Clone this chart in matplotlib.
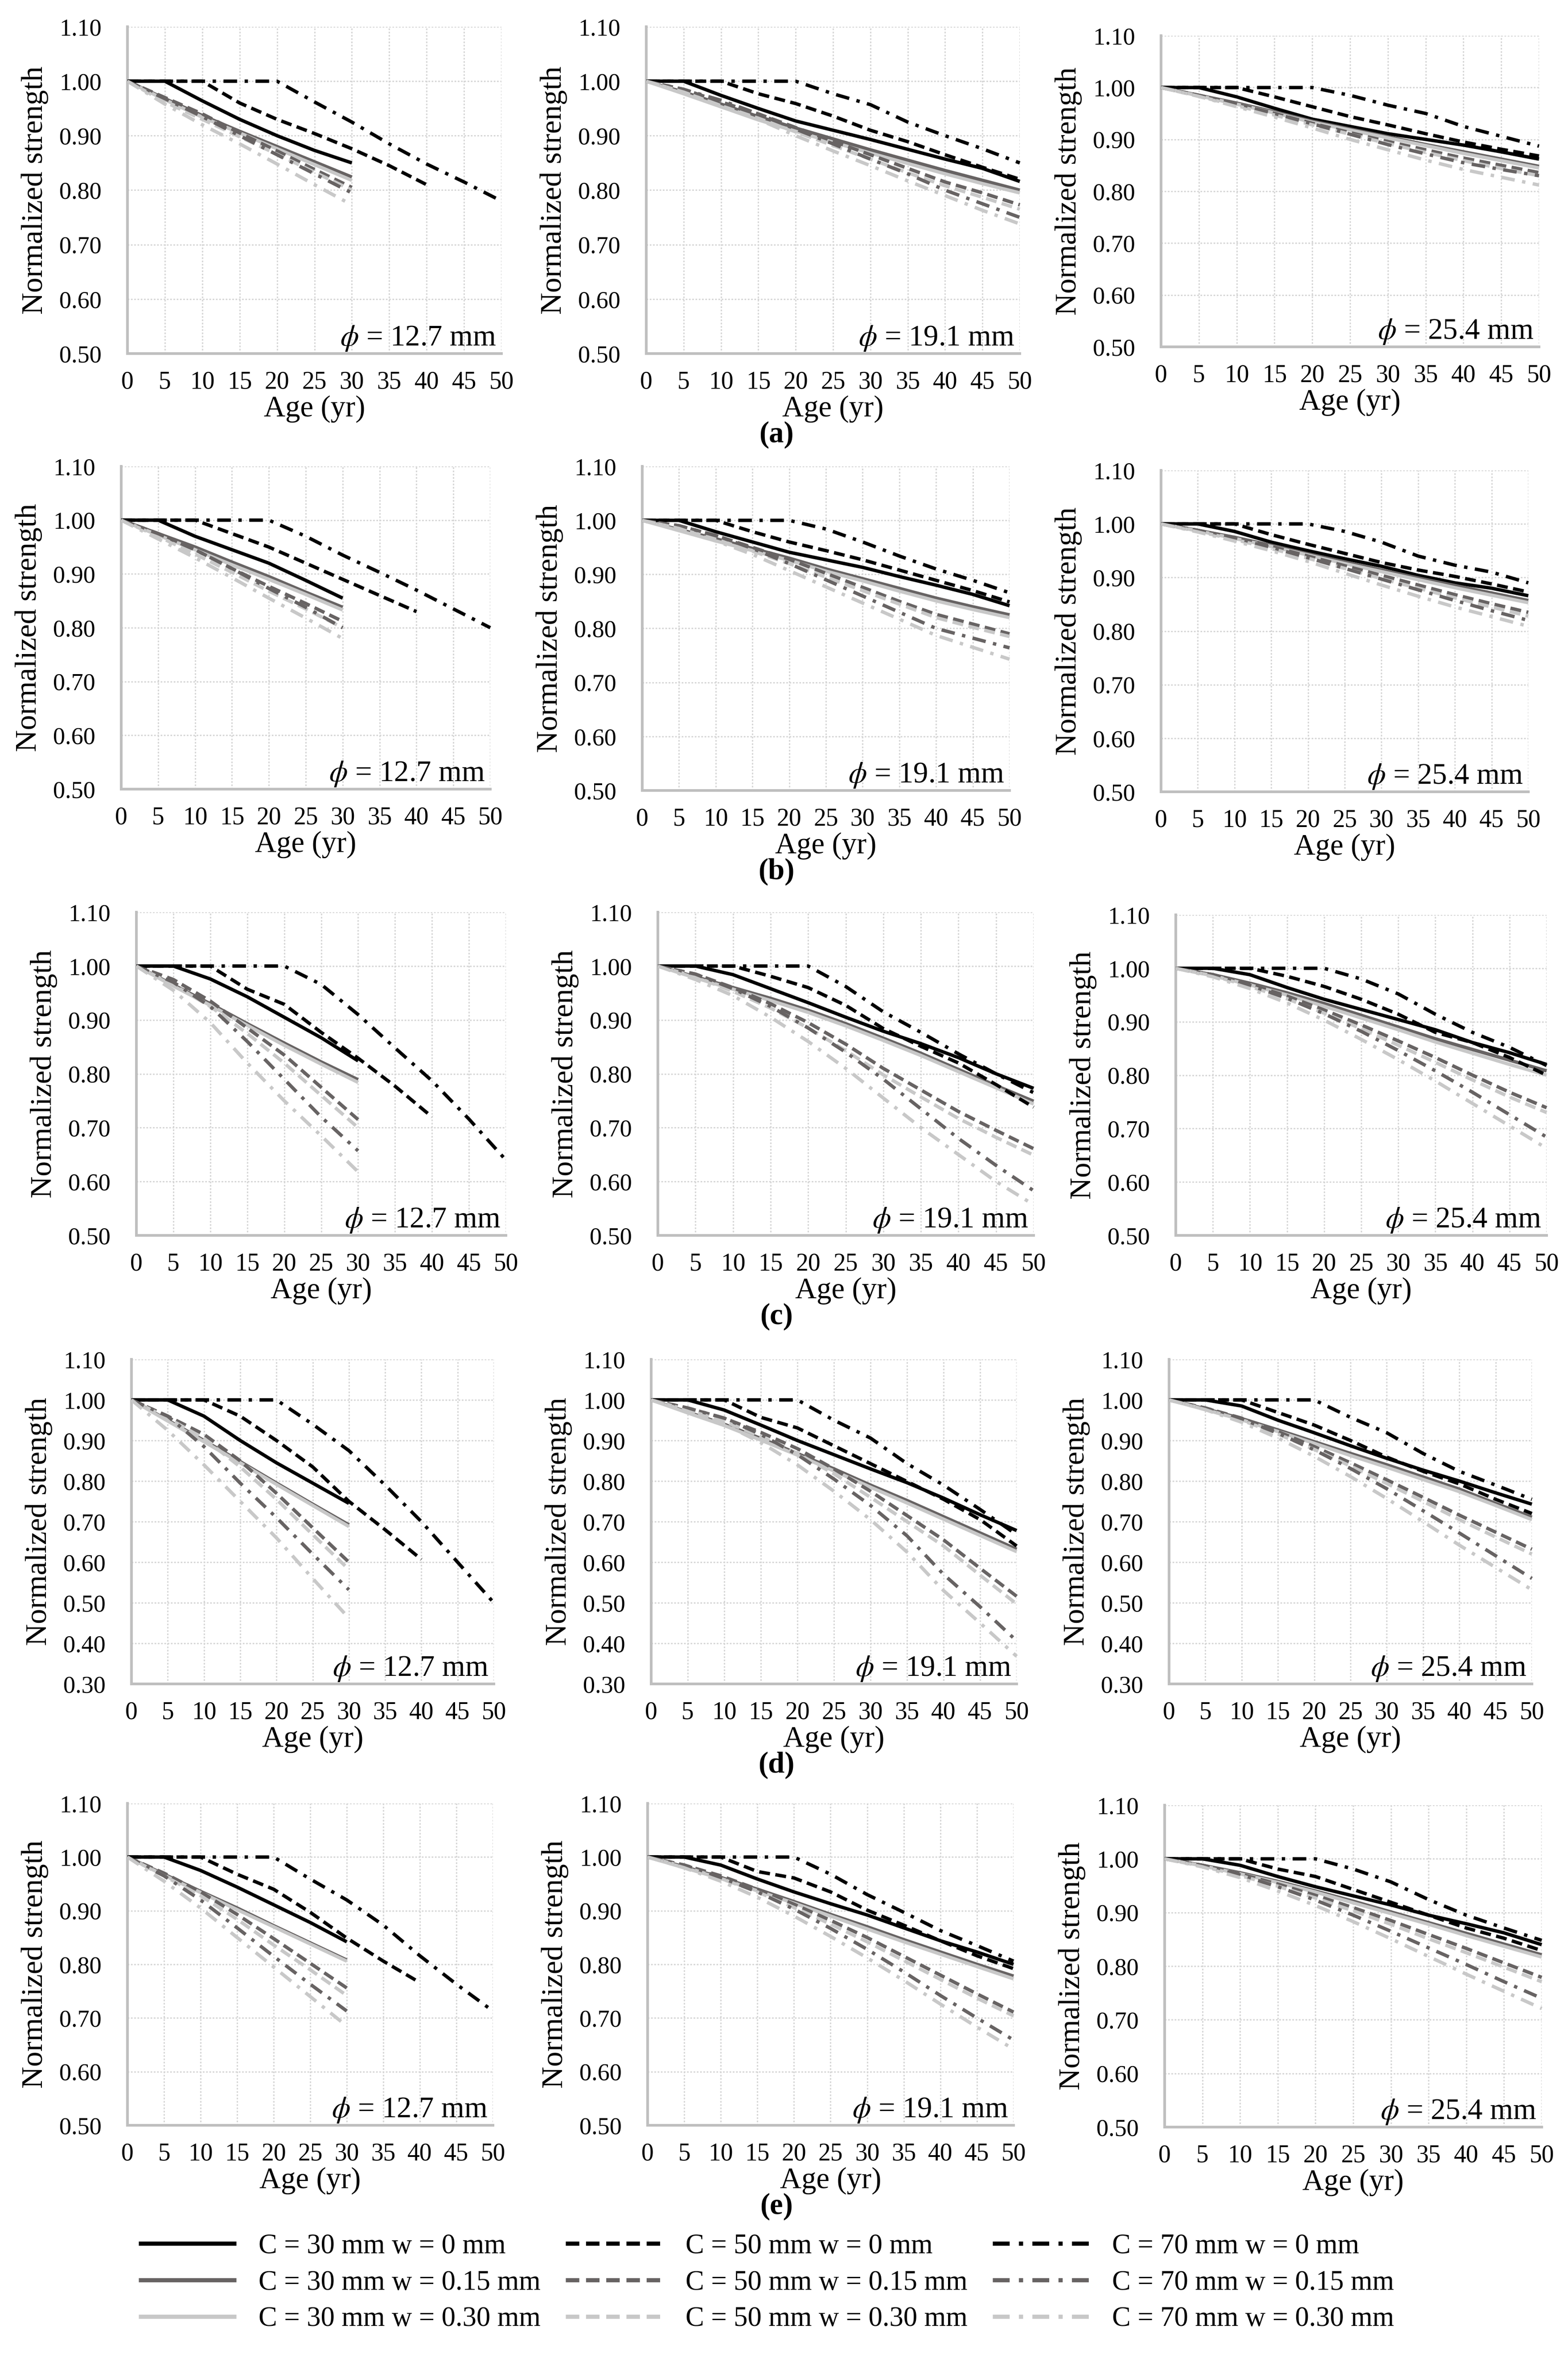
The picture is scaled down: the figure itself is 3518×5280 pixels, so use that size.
import numpy as np
import matplotlib
matplotlib.use('Agg')
import matplotlib.pyplot as plt
from matplotlib.lines import Line2D

plt.rcParams['font.family'] = ['Liberation Serif', 'DejaVu Serif']
plt.rcParams['mathtext.fontset'] = 'stix'

# ---------------- data ----------------
ages = [0, 5, 10, 15, 20, 25, 30, 35, 40, 45, 50]
yticks_std = [0.50, 0.60, 0.70, 0.80, 0.90, 1.00, 1.10]
yticks_d = [0.30, 0.40, 0.50, 0.60, 0.70, 0.80, 0.90, 1.00, 1.10]
diameters = ['12.7', '19.1', '25.4']
row_tags = ['(a)', '(b)', '(c)', '(d)', '(e)']
series_labels = ['C = 30 mm w = 0 mm', 'C = 30 mm w = 0.15 mm', 'C = 30 mm w = 0.30 mm',
                 'C = 50 mm w = 0 mm', 'C = 50 mm w = 0.15 mm', 'C = 50 mm w = 0.30 mm',
                 'C = 70 mm w = 0 mm', 'C = 70 mm w = 0.15 mm', 'C = 70 mm w = 0.30 mm']

# order in each panel: C30 w0, C30 w0.15, C30 w0.30, C50 w0, C50 w0.15, C50 w0.30, C70 w0, C70 w0.15, C70 w0.30
a_127 = [[1, 1, 0.964, 0.93, 0.90, 0.873, 0.85],
         [1, 0.968, 0.937, 0.908, 0.88, 0.852, 0.824],
         [1, 0.966, 0.934, 0.905, 0.876, 0.847, 0.818],
         [1, 1, 1, 0.96, 0.93, 0.904, 0.876, 0.845, 0.81],
         [1, 0.97, 0.94, 0.905, 0.872, 0.838, 0.805],
         [1, 0.962, 0.93, 0.898, 0.866, 0.833, 0.80],
         [1, 1, 1, 1, 1, 0.962, 0.925, 0.885, 0.848, 0.815, 0.78],
         [1, 0.968, 0.935, 0.90, 0.865, 0.83, 0.795],
         [1, 0.958, 0.92, 0.885, 0.848, 0.81, 0.773]]
a_191 = [[1, 1, 0.974, 0.95, 0.927, 0.91, 0.893, 0.875, 0.857, 0.84, 0.816],
         [1, 0.98, 0.958, 0.935, 0.914, 0.894, 0.874, 0.855, 0.836, 0.818, 0.80],
         [1, 0.977, 0.953, 0.929, 0.908, 0.888, 0.868, 0.849, 0.83, 0.812, 0.795],
         [1, 1, 1, 0.977, 0.959, 0.936, 0.91, 0.889, 0.865, 0.842, 0.82],
         [1, 0.985, 0.962, 0.94, 0.915, 0.89, 0.865, 0.84, 0.815, 0.795, 0.773],
         [1, 0.98, 0.955, 0.932, 0.907, 0.882, 0.857, 0.832, 0.808, 0.787, 0.765],
         [1, 1, 1, 1, 1, 0.977, 0.957, 0.925, 0.90, 0.876, 0.85],
         [1, 0.985, 0.965, 0.94, 0.912, 0.885, 0.857, 0.83, 0.80, 0.775, 0.75],
         [1, 0.98, 0.955, 0.93, 0.90, 0.872, 0.845, 0.817, 0.79, 0.763, 0.738]]
a_254 = [[1, 1, 0.982, 0.96, 0.939, 0.925, 0.911, 0.90, 0.889, 0.876, 0.862],
         [1, 0.985, 0.97, 0.953, 0.935, 0.92, 0.905, 0.89, 0.876, 0.862, 0.848],
         [1, 0.984, 0.968, 0.951, 0.933, 0.918, 0.903, 0.888, 0.873, 0.859, 0.845],
         [1, 1, 1, 0.982, 0.963, 0.944, 0.928, 0.911, 0.895, 0.881, 0.868],
         [1, 0.985, 0.968, 0.95, 0.931, 0.913, 0.896, 0.88, 0.864, 0.85, 0.836],
         [1, 0.983, 0.965, 0.947, 0.928, 0.91, 0.892, 0.875, 0.859, 0.844, 0.83],
         [1, 1, 1, 1, 1, 0.985, 0.966, 0.95, 0.925, 0.906, 0.887],
         [1, 0.985, 0.968, 0.95, 0.93, 0.91, 0.89, 0.872, 0.855, 0.842, 0.83],
         [1, 0.983, 0.963, 0.943, 0.922, 0.90, 0.88, 0.86, 0.842, 0.827, 0.812]]

b_127 = [[1, 1, 0.97, 0.945, 0.92, 0.888, 0.855],
         [1, 0.975, 0.95, 0.922, 0.895, 0.866, 0.838],
         [1, 0.972, 0.945, 0.917, 0.89, 0.862, 0.833],
         [1, 1, 1, 0.975, 0.95, 0.92, 0.89, 0.86, 0.83],
         [1, 0.975, 0.945, 0.91, 0.877, 0.845, 0.812],
         [1, 0.97, 0.937, 0.903, 0.868, 0.835, 0.80],
         [1, 1, 1, 1, 1, 0.97, 0.935, 0.903, 0.87, 0.835, 0.80],
         [1, 0.975, 0.945, 0.91, 0.873, 0.838, 0.80],
         [1, 0.965, 0.93, 0.893, 0.855, 0.818, 0.78]]
b_191 = [[1, 1, 0.979, 0.96, 0.941, 0.927, 0.913, 0.896, 0.88, 0.863, 0.842],
         [1, 0.983, 0.966, 0.948, 0.93, 0.91, 0.892, 0.874, 0.856, 0.84, 0.825],
         [1, 0.981, 0.962, 0.944, 0.926, 0.906, 0.888, 0.869, 0.851, 0.835, 0.82],
         [1, 1, 1, 0.979, 0.96, 0.944, 0.927, 0.908, 0.889, 0.87, 0.849],
         [1, 0.99, 0.972, 0.95, 0.928, 0.902, 0.876, 0.85, 0.826, 0.808, 0.79],
         [1, 0.985, 0.965, 0.943, 0.92, 0.895, 0.87, 0.845, 0.82, 0.802, 0.785],
         [1, 1, 1, 1, 1, 0.984, 0.96, 0.934, 0.91, 0.889, 0.866],
         [1, 0.99, 0.972, 0.948, 0.92, 0.89, 0.86, 0.83, 0.80, 0.782, 0.764],
         [1, 0.985, 0.962, 0.937, 0.907, 0.877, 0.847, 0.817, 0.787, 0.765, 0.743]]
b_254 = [[1, 1, 0.986, 0.966, 0.95, 0.935, 0.921, 0.904, 0.89, 0.88, 0.866],
         [1, 0.988, 0.975, 0.96, 0.944, 0.929, 0.914, 0.899, 0.885, 0.871, 0.857],
         [1, 0.987, 0.973, 0.958, 0.942, 0.926, 0.911, 0.896, 0.881, 0.867, 0.853],
         [1, 1, 1, 0.98, 0.962, 0.945, 0.928, 0.914, 0.902, 0.888, 0.873],
         [1, 0.988, 0.974, 0.958, 0.94, 0.922, 0.904, 0.886, 0.868, 0.851, 0.835],
         [1, 0.986, 0.971, 0.954, 0.936, 0.917, 0.898, 0.88, 0.862, 0.845, 0.828],
         [1, 1, 1, 1, 1, 0.986, 0.966, 0.94, 0.923, 0.91, 0.89],
         [1, 0.988, 0.973, 0.956, 0.937, 0.917, 0.897, 0.877, 0.857, 0.838, 0.82],
         [1, 0.985, 0.968, 0.95, 0.93, 0.908, 0.886, 0.865, 0.845, 0.827, 0.809]]

c_127 = [[1, 1, 0.976, 0.943, 0.905, 0.867, 0.824],
         [1, 0.965, 0.93, 0.893, 0.857, 0.822, 0.789],
         [1, 0.963, 0.927, 0.89, 0.853, 0.818, 0.784],
         [1, 1, 1, 0.957, 0.929, 0.877, 0.829, 0.777, 0.72],
         [1, 0.975, 0.935, 0.885, 0.835, 0.775, 0.715],
         [1, 0.965, 0.925, 0.875, 0.82, 0.76, 0.70],
         [1, 1, 1, 1, 1, 0.966, 0.91, 0.848, 0.787, 0.716, 0.64],
         [1, 0.97, 0.925, 0.86, 0.79, 0.72, 0.657],
         [1, 0.955, 0.895, 0.82, 0.75, 0.685, 0.618]]
c_191 = [[1, 1, 0.984, 0.958, 0.932, 0.905, 0.879, 0.856, 0.83, 0.80, 0.773],
         [1, 0.98, 0.96, 0.94, 0.918, 0.893, 0.866, 0.838, 0.808, 0.778, 0.749],
         [1, 0.978, 0.957, 0.936, 0.914, 0.889, 0.862, 0.834, 0.804, 0.774, 0.744],
         [1, 1, 1, 0.981, 0.96, 0.927, 0.884, 0.851, 0.82, 0.78, 0.738],
         [1, 0.985, 0.96, 0.93, 0.895, 0.855, 0.81, 0.77, 0.73, 0.695, 0.661],
         [1, 0.98, 0.953, 0.922, 0.885, 0.843, 0.798, 0.757, 0.717, 0.682, 0.649],
         [1, 1, 1, 1, 1, 0.962, 0.915, 0.877, 0.837, 0.80, 0.765],
         [1, 0.985, 0.958, 0.925, 0.885, 0.84, 0.79, 0.735, 0.68, 0.63, 0.583],
         [1, 0.975, 0.945, 0.905, 0.86, 0.81, 0.755, 0.70, 0.65, 0.60, 0.557]]
c_254 = [[1, 1, 0.988, 0.964, 0.942, 0.923, 0.904, 0.885, 0.861, 0.842, 0.82],
         [1, 0.988, 0.972, 0.954, 0.934, 0.912, 0.89, 0.868, 0.848, 0.828, 0.808],
         [1, 0.986, 0.969, 0.95, 0.929, 0.907, 0.885, 0.862, 0.841, 0.82, 0.80],
         [1, 1, 1, 0.985, 0.966, 0.942, 0.914, 0.88, 0.861, 0.833, 0.80],
         [1, 0.988, 0.97, 0.948, 0.922, 0.894, 0.864, 0.833, 0.80, 0.768, 0.739],
         [1, 0.986, 0.966, 0.943, 0.916, 0.887, 0.856, 0.824, 0.791, 0.759, 0.73],
         [1, 1, 1, 1, 1, 0.98, 0.952, 0.914, 0.88, 0.852, 0.818],
         [1, 0.988, 0.968, 0.944, 0.915, 0.882, 0.846, 0.808, 0.768, 0.726, 0.684],
         [1, 0.984, 0.962, 0.935, 0.903, 0.867, 0.829, 0.789, 0.747, 0.705, 0.663]]

d_127 = [[1, 1, 0.96, 0.90, 0.845, 0.795, 0.745],
         [1, 0.95, 0.90, 0.848, 0.795, 0.743, 0.692],
         [1, 0.948, 0.897, 0.845, 0.792, 0.74, 0.688],
         [1, 1, 1, 0.96, 0.90, 0.835, 0.75, 0.68, 0.607],
         [1, 0.96, 0.915, 0.85, 0.77, 0.685, 0.60],
         [1, 0.955, 0.905, 0.835, 0.755, 0.668, 0.582],
         [1, 1, 1, 1, 1, 0.94, 0.875, 0.79, 0.70, 0.60, 0.50],
         [1, 0.96, 0.885, 0.795, 0.71, 0.62, 0.532],
         [1, 0.925, 0.84, 0.75, 0.66, 0.56, 0.462]]
d_191 = [[1, 1, 0.975, 0.938, 0.90, 0.865, 0.83, 0.796, 0.758, 0.717, 0.678],
         [1, 0.97, 0.94, 0.905, 0.868, 0.83, 0.79, 0.752, 0.712, 0.672, 0.632],
         [1, 0.968, 0.937, 0.901, 0.864, 0.825, 0.785, 0.746, 0.706, 0.666, 0.626],
         [1, 1, 1, 0.957, 0.931, 0.887, 0.843, 0.799, 0.755, 0.705, 0.64],
         [1, 0.98, 0.955, 0.92, 0.88, 0.83, 0.775, 0.715, 0.655, 0.585, 0.516],
         [1, 0.975, 0.947, 0.91, 0.868, 0.818, 0.76, 0.70, 0.64, 0.568, 0.497],
         [1, 1, 1, 1, 1, 0.95, 0.906, 0.843, 0.79, 0.73, 0.668],
         [1, 0.98, 0.955, 0.915, 0.865, 0.805, 0.74, 0.665, 0.57, 0.49, 0.406],
         [1, 0.972, 0.94, 0.895, 0.84, 0.775, 0.705, 0.625, 0.53, 0.45, 0.368]]
d_254 = [[1, 1, 0.985, 0.95, 0.919, 0.887, 0.856, 0.827, 0.80, 0.771, 0.743],
         [1, 0.978, 0.954, 0.926, 0.897, 0.868, 0.84, 0.81, 0.78, 0.745, 0.711],
         [1, 0.976, 0.951, 0.922, 0.893, 0.863, 0.834, 0.804, 0.774, 0.74, 0.705],
         [1, 1, 1, 0.969, 0.938, 0.90, 0.859, 0.824, 0.793, 0.755, 0.72],
         [1, 0.98, 0.955, 0.922, 0.885, 0.845, 0.803, 0.76, 0.716, 0.674, 0.632],
         [1, 0.977, 0.95, 0.916, 0.878, 0.837, 0.794, 0.75, 0.705, 0.662, 0.62],
         [1, 1, 1, 1, 1, 0.957, 0.919, 0.868, 0.824, 0.79, 0.755],
         [1, 0.98, 0.953, 0.918, 0.877, 0.831, 0.781, 0.727, 0.672, 0.616, 0.56],
         [1, 0.976, 0.945, 0.906, 0.861, 0.811, 0.757, 0.70, 0.642, 0.587, 0.532]]

e_127 = [[1, 1, 0.975, 0.944, 0.911, 0.878, 0.842],
         [1, 0.968, 0.936, 0.905, 0.872, 0.84, 0.808],
         [1, 0.966, 0.934, 0.902, 0.87, 0.838, 0.806],
         [1, 1, 1, 0.968, 0.94, 0.897, 0.849, 0.806, 0.766],
         [1, 0.97, 0.935, 0.893, 0.848, 0.802, 0.756],
         [1, 0.965, 0.928, 0.884, 0.836, 0.79, 0.742],
         [1, 1, 1, 1, 1, 0.959, 0.92, 0.873, 0.816, 0.763, 0.713],
         [1, 0.965, 0.92, 0.868, 0.815, 0.763, 0.713],
         [1, 0.955, 0.905, 0.85, 0.795, 0.74, 0.685]]
e_191 = [[1, 1, 0.985, 0.959, 0.935, 0.913, 0.892, 0.868, 0.844, 0.823, 0.80],
         [1, 0.982, 0.962, 0.94, 0.917, 0.893, 0.87, 0.846, 0.823, 0.80, 0.778],
         [1, 0.98, 0.96, 0.937, 0.914, 0.89, 0.866, 0.842, 0.819, 0.796, 0.773],
         [1, 1, 1, 0.973, 0.961, 0.935, 0.901, 0.873, 0.844, 0.816, 0.792],
         [1, 0.985, 0.965, 0.94, 0.912, 0.882, 0.85, 0.815, 0.78, 0.745, 0.711],
         [1, 0.982, 0.96, 0.935, 0.906, 0.875, 0.842, 0.807, 0.772, 0.737, 0.704],
         [1, 1, 1, 1, 1, 0.968, 0.93, 0.897, 0.863, 0.835, 0.806],
         [1, 0.985, 0.962, 0.935, 0.903, 0.867, 0.828, 0.786, 0.742, 0.70, 0.659],
         [1, 0.98, 0.955, 0.925, 0.89, 0.852, 0.812, 0.77, 0.726, 0.683, 0.642]]
e_254 = [[1, 1, 0.988, 0.967, 0.948, 0.931, 0.914, 0.895, 0.879, 0.862, 0.84],
         [1, 0.988, 0.974, 0.958, 0.94, 0.921, 0.901, 0.881, 0.861, 0.841, 0.821],
         [1, 0.987, 0.972, 0.956, 0.938, 0.918, 0.898, 0.878, 0.857, 0.837, 0.817],
         [1, 1, 1, 0.981, 0.967, 0.943, 0.919, 0.895, 0.871, 0.852, 0.829],
         [1, 0.988, 0.972, 0.953, 0.932, 0.909, 0.885, 0.859, 0.833, 0.806, 0.779],
         [1, 0.986, 0.969, 0.949, 0.927, 0.903, 0.878, 0.851, 0.825, 0.798, 0.771],
         [1, 1, 1, 1, 1, 0.981, 0.957, 0.924, 0.895, 0.871, 0.848],
         [1, 0.988, 0.97, 0.948, 0.923, 0.895, 0.865, 0.834, 0.803, 0.771, 0.74],
         [1, 0.985, 0.965, 0.94, 0.913, 0.883, 0.851, 0.818, 0.785, 0.753, 0.721]]

panels = [[a_127, a_191, a_254], [b_127, b_191, b_254], [c_127, c_191, c_254],
          [d_127, d_191, d_254], [e_127, e_191, e_254]]

# ---------------- styles / layout ----------------
W, H = 3518, 5280
DPI = 100
w_colors = ['#000000', '#676363', '#c8c8c8']
c_styles = ['-', (0, (3.2, 1.6)), (0, (4.0, 2.2, 1.0, 2.2))]
LW = 5.5

# axes rectangles in pixels: (left, right, top, bottom)
rects = [
    [(286, 1125, 60, 793), (1450, 2288, 60, 793), (2605, 3453, 80, 778)],
    [(272, 1100, 1046, 1770), (1441, 2265, 1046, 1773), (2605, 3429, 1055, 1776)],
    [(306, 1135, 2046, 2771), (1476, 2319, 2046, 2771), (2638, 3470, 2052, 2771)],
    [(295, 1108, 3049, 3777), (1461, 2281, 3049, 3777), (2623, 3437, 3049, 3777)],
    [(286, 1106, 4045, 4767), (1453, 2274, 4045, 4767), (2613, 3459, 4049, 4771)],
]

fig = plt.figure(figsize=(W / DPI, H / DPI), dpi=DPI)
fig.patch.set_facecolor('white')

for r in range(5):
    yt = yticks_d if r == 3 else yticks_std
    for c in range(3):
        L, R, T, B = rects[r][c]
        wpx, hpx = R - L, B - T
        ax = fig.add_axes([L / W, 1 - B / H, wpx / W, hpx / H])
        ax.set_xlim(0, 50)
        ax.set_ylim(yt[0], yt[-1])
        ax.set_xticks(ages)
        ax.set_yticks(yt)
        ax.set_yticklabels([f'{v:.2f}' for v in yt])
        ax.tick_params(length=0, colors='black')
        ax.tick_params(axis='y', pad=42, labelsize=39)
        ax.tick_params(axis='x', pad=28, labelsize=40)
        ax.grid(True, color='#d6d6d6', lw=2.2, linestyle=(0, (1.2, 1.2)))
        ax.set_axisbelow(True)
        for s in ['top', 'right']:
            ax.spines[s].set_visible(False)
        for s in ['left', 'bottom']:
            ax.spines[s].set_color('#bfbfbf')
            ax.spines[s].set_linewidth(4.3)
            ax.spines[s].set_zorder(1.5)
        data = panels[r][c]
        for i, vals in enumerate(data):
            ax.plot(ages[:len(vals)], vals, color=w_colors[i % 3], linestyle=c_styles[i // 3],
                    lw=LW, dash_capstyle='butt', solid_capstyle='butt',
                    solid_joinstyle='round', dash_joinstyle='round', clip_on=False, zorder=3)
        ax.text(1 - 12 / wpx, 18 / hpx, r'$\phi$ = ' + diameters[c] + ' mm', transform=ax.transAxes,
                ha='right', va='baseline', fontsize=48)
        ax.text(0.5, -124 / hpx, 'Age (yr)', transform=ax.transAxes, ha='center', va='center',
                fontsize=48)
        ax.text(-208 / wpx, 0.5, 'Normalized strength', transform=ax.transAxes, rotation=90,
                ha='center', va='center', fontsize=49)
    fig.text(1742 / W, 1 - (rects[r][1][3] + 182) / H, row_tags[r], ha='center', va='center',
             fontsize=48, fontweight='bold')

handles = [Line2D([], [], color=w_colors[i % 3], linestyle=c_styles[i // 3], lw=6.8,
                  dash_capstyle='butt', solid_capstyle='butt') for i in range(9)]
fig.legend(handles, series_labels, ncol=3, loc='upper left',
           bbox_to_anchor=(311 / W, 1 - 5010 / H), frameon=False, fontsize=45,
           handlelength=3.5, handletextpad=0.8, columnspacing=0.9, labelspacing=0.38,
           borderpad=0, borderaxespad=0)

fig.savefig('out.png', dpi=DPI, facecolor='white')
